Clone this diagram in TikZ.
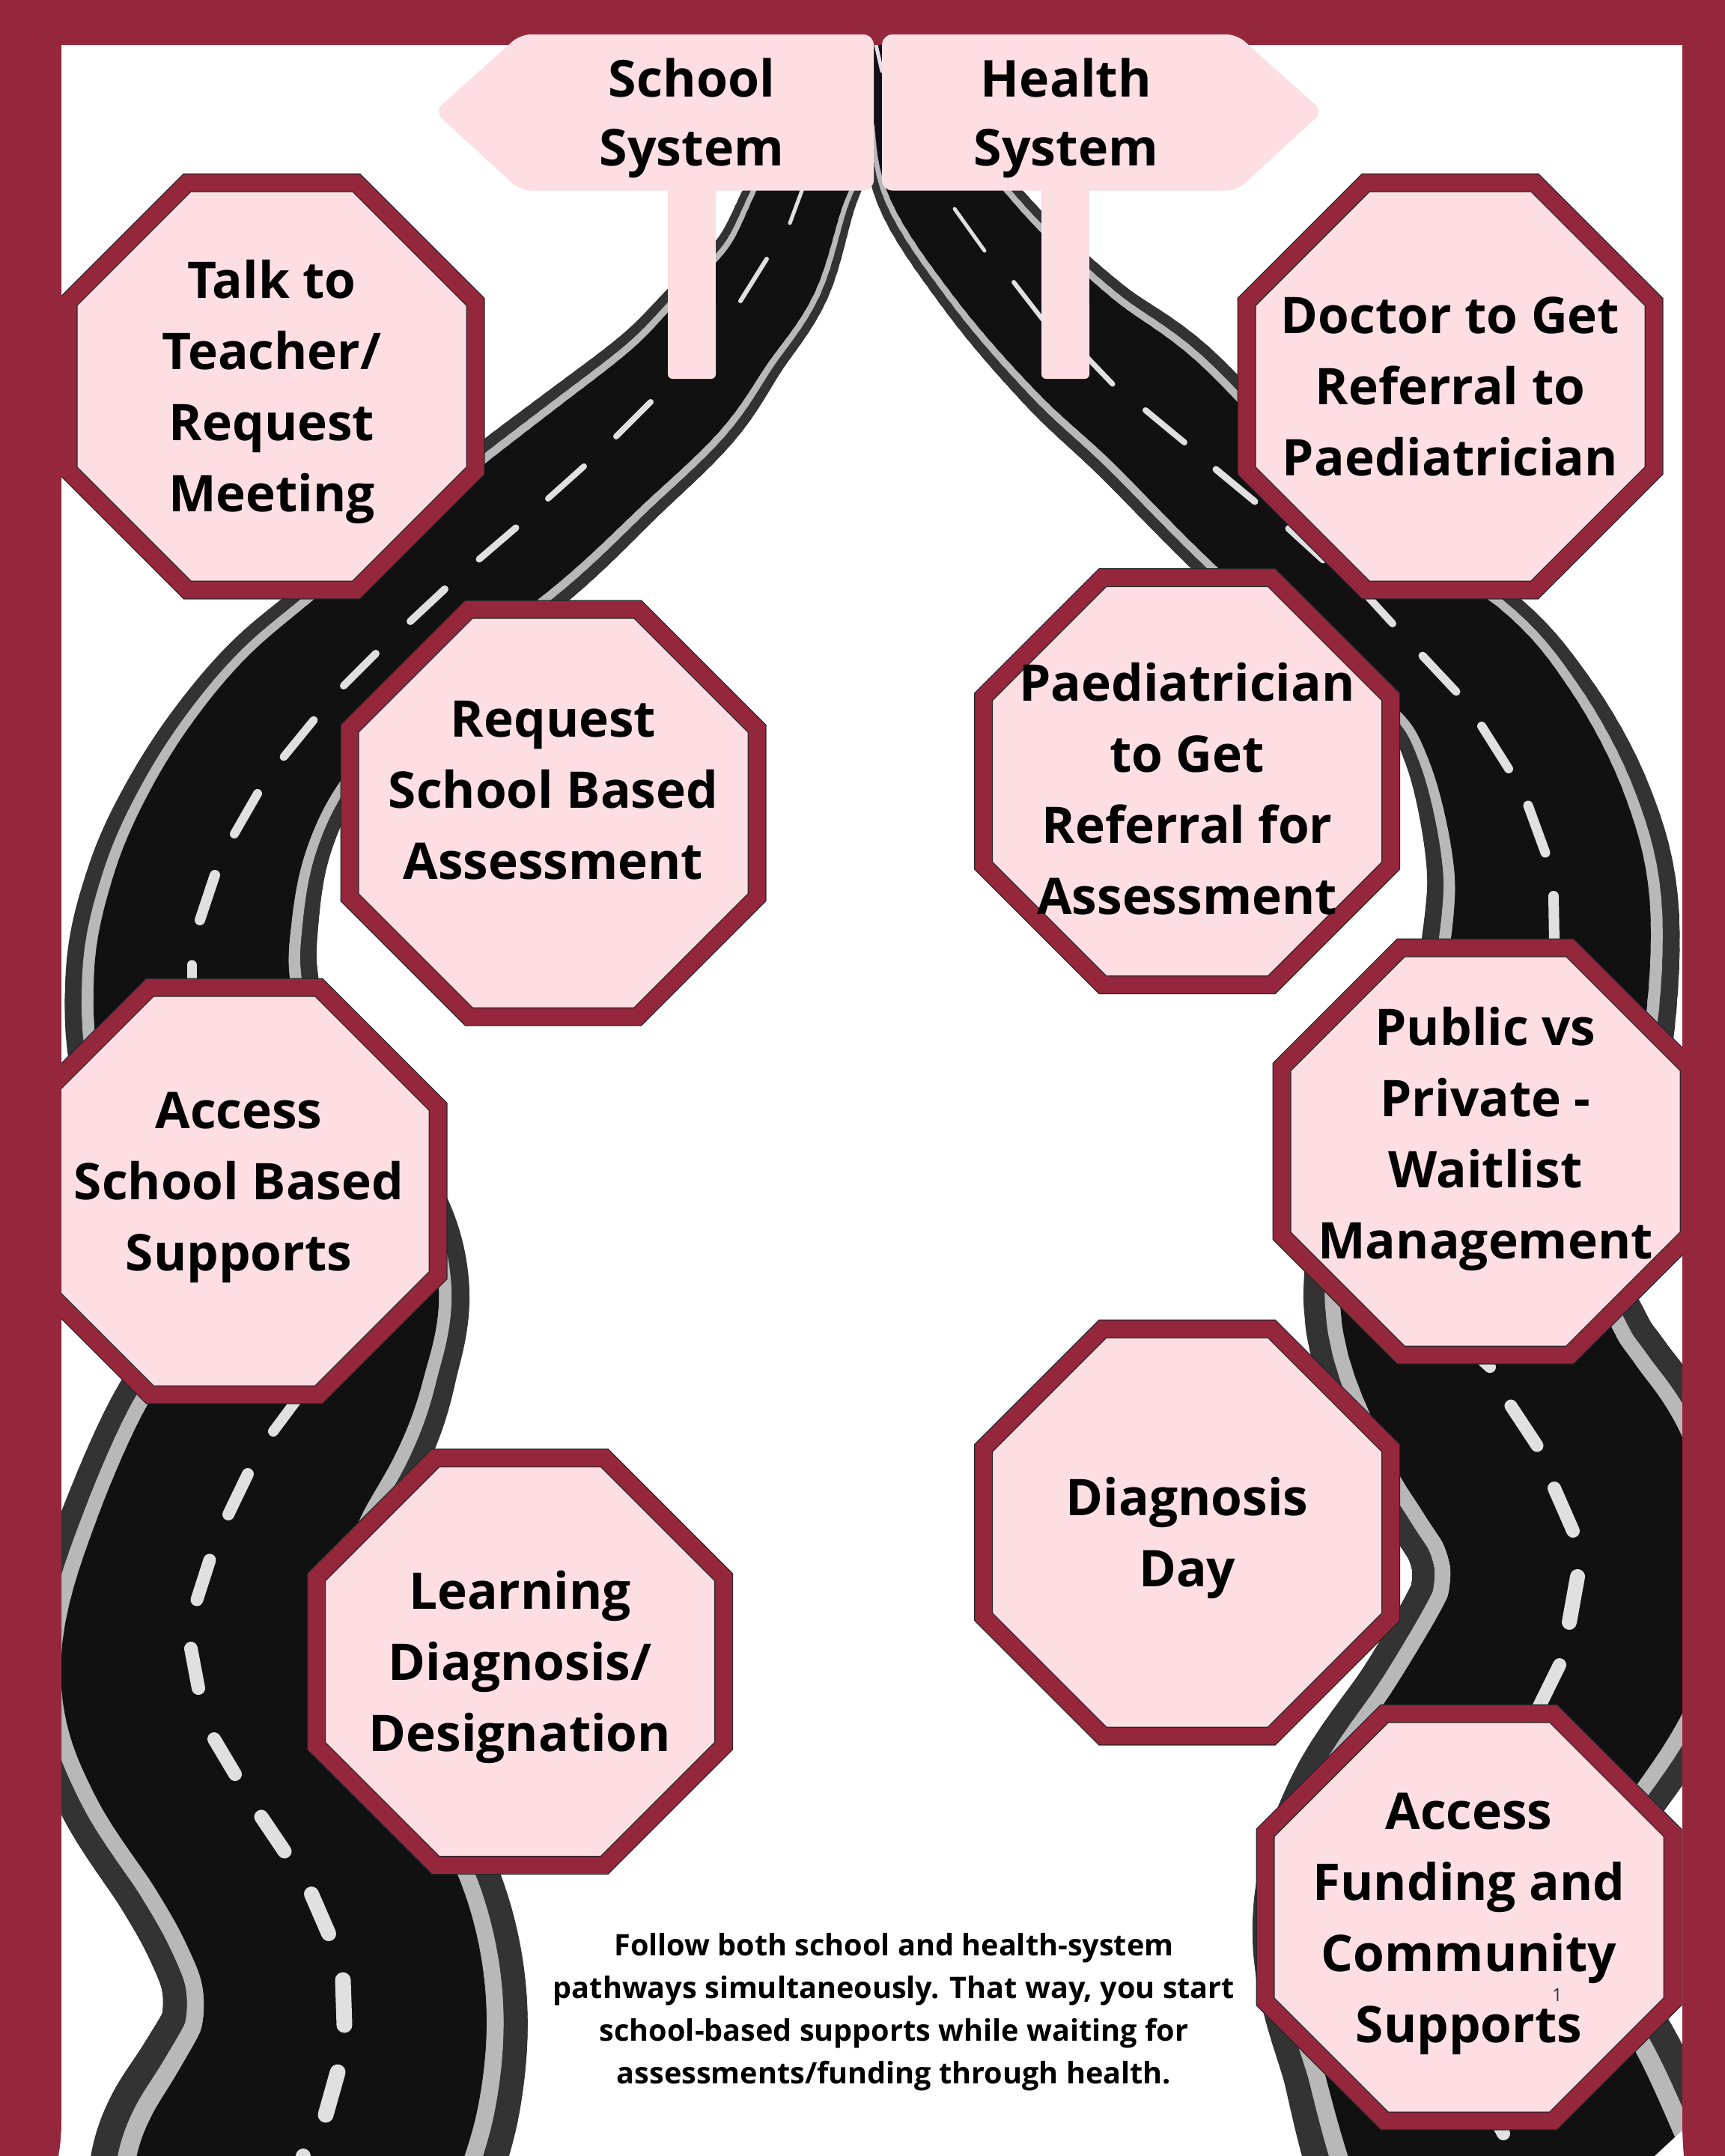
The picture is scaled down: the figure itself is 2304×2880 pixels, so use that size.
\documentclass[tikz,border=0pt]{standalone}
\usepackage{fontspec}
\setmainfont{Open Sans}
\definecolor{maroon}{HTML}{95273D}
\definecolor{pinkfill}{HTML}{FDDEE3}
\definecolor{roadblack}{HTML}{111111}
\definecolor{roaddark}{HTML}{333333}
\definecolor{roadlight}{HTML}{B8B8B8}
\definecolor{dashcol}{HTML}{E0E0E0}
\tikzset{
  octborder/.style={draw=black!85, line width=25pt, fill=pinkfill, postaction={draw=maroon, line width=22.5pt}},
  octlabel/.style={minimum width=544pt, minimum height=544pt, inner sep=0pt, outer sep=0pt},
  signtext/.style={align=center, font=\bfseries\fontsize{68}{92}\selectfont, text=black},
  foot/.style={align=center, font=\bfseries\fontsize{39.6}{57}\selectfont, text=black},
  signshape/.style={fill=pinkfill, rounded corners=14pt},
  dashline/.style={draw=dashcol, line cap=round},
}
\newcommand\octx[2]{\makebox[0pt]{\smash{\raisebox{\dimexpr#1-12pt\relax}{\bfseries\fontsize{67.5}{95}\selectfont\begin{tabular}{@{}c@{}}#2\end{tabular}}}}}
% name, x, y, text
\newcommand\octnode[4]{%
  \draw[octborder, shift={(#2,#3)}] (-112.7,-272) -- (112.7,-272) -- (272,-112.7) -- (272,112.7) -- (112.7,272) -- (-112.7,272) -- (-272,112.7) -- (-272,-112.7) -- cycle;
  \node[octlabel] (#1) at (#2,#3) {#4};
}
\newcommand\crv[6]{\pgfmathsetmacro#1{0.5*(2*#3+(#4-#2)*#6+(2*#2-5*#3+4*#4-#5)*#6*#6+(3*#3-#2-3*#4+#5)*#6*#6*#6)}}
% #1 list macro, #2 xs, #3 ys, #4 ws, #5 count
\newcommand\buildroad[5]{%
  \gdef#1{}%
  \pgfmathtruncatemacro\nnseg{#5-2}%
  \foreach \i in {0,...,\nnseg}{%
    \pgfmathtruncatemacro\ia{max(\i-1,0)}%
    \pgfmathtruncatemacro\ic{\i+1}%
    \pgfmathtruncatemacro\id{min(\i+2,#5-1)}%
    \pgfmathsetmacro\xa{#2[\ia]}\pgfmathsetmacro\xb{#2[\i]}\pgfmathsetmacro\xc{#2[\ic]}\pgfmathsetmacro\xd{#2[\id]}%
    \pgfmathsetmacro\ya{#3[\ia]}\pgfmathsetmacro\yb{#3[\i]}\pgfmathsetmacro\yc{#3[\ic]}\pgfmathsetmacro\yd{#3[\id]}%
    \pgfmathsetmacro\wa{#4[\ia]}\pgfmathsetmacro\wb{#4[\i]}\pgfmathsetmacro\wc{#4[\ic]}\pgfmathsetmacro\wd{#4[\id]}%
    \foreach \k in {1,...,8}{%
      \pgfmathsetmacro\tv{\k/8}%
      \crv\rx\xa\xb\xc\xd\tv \crv\ry\ya\yb\yc\yd\tv \crv\rw\wa\wb\wc\wd\tv
      \xdef#1{#1\ifx#1\empty\else,\fi\rx/\ry/\rw}%
    }%
  }%
}
\newcommand\roadlayer[5]{% list, x0, y0, factor, colour
  \foreach \x/\y/\w [remember=\x as \px (initially #2), remember=\y as \py (initially #3)] in #1 {%
    \pgfmathsetmacro\lw{\w*#4}%
    \draw[draw=#5, line cap=round, line width=\lw pt] (\px,\py) -- (\x,\y);
  }%
}
\def\LX{{1155,1125,1074,1029,965,900,795,688,575,466,395,338,295,268,256,275,350,425,446,425,390,332,280,258,285,360,412,449,461,449,412,385}}
\def\LY{{70,170,254,364,445,524,615,706,795,886,955,1033,1120,1210,1310,1430,1560,1650,1725,1800,1870,1966,2100,2228,2315,2424,2513,2601,2690,2779,2867,2925}}
\def\LW{{70,100,140,165,185,205,222,239,238,245,258,270,290,315,335,350,350,350,360,375,400,415,425,454,460,468,472,478,486,495,515,535}}
\def\RX{{1190,1210,1255,1341,1440,1540,1665,1800,1940,2009,2058,2073,2050,1985,1957,2005,2045,2082,2105,2114,2105,2080,2003,1930,1912,1957,2008,2050}}
\def\RY{{70,170,254,364,465,548,674,790,885,981,1110,1230,1400,1580,1731,1860,1925,1980,2040,2098,2170,2230,2352,2480,2590,2730,2849,2950}}
\def\RW{{50,100,162,185,205,225,225,235,245,270,310,337,360,400,430,440,445,450,452,455,452,450,440,460,476,490,530,540}}
\begin{document}
\begin{tikzpicture}[x=1pt,y=-1pt]
\useasboundingbox (0,0) rectangle (2304,2880);
\fill[white] (0,0) rectangle (2304,2880);
% roads
\buildroad\lroad\LX\LY\LW{32}
\buildroad\rroad\RX\RY\RW{28}
\roadlayer\lroad{1155}{70}{1}{roaddark}
\roadlayer\rroad{1190}{70}{1}{roaddark}
\roadlayer\lroad{1155}{70}{0.868}{roadlight}
\roadlayer\rroad{1190}{70}{0.868}{roadlight}
\roadlayer\lroad{1155}{70}{0.775}{roadblack}
\roadlayer\rroad{1190}{70}{0.775}{roadblack}
% dashes
\foreach \xa/\ya/\xb/\yb/\dw in {
 1082/225/1055/298/5,1024/346/989/402/6,869/537/823/583/8,780/623/732/666/8,689/705/640/747/9,
 594/787/548/830/10,502/873/459/916/10,419/962/379/1011/11,344/1060/313/1114/12,287/1169/267/1229/14,
 256/1289/256/1330/13,400/1865/365/1912/14,331/1969/305/2023/16,280/2084/263/2137/17,255/2202/265/2255/18,
 286/2323/314/2370/18,349/2427/380/2473/19,416/2530/439/2583/20,458/2645/460/2705/21,451/2768/435/2825/21,
 405/2880/400/2900/20,
 1170/60/1178/95/5,1275/279/1315/335/5,1354/377/1395/430/6,1440/465/1486/513/7,1530/548/1582/591/8,
 1624/627/1676/670/9,1721/706/1767/748/9,1827/797/1860/833/10,1900/876/1945/924/11,1979/970/2015/1027/12,
 2041/1076/2064/1139/13,2075/1197/2076/1260/14,1975/1812/1990/1826/16,2018/1878/2053/1931/17,
 2076/1988/2101/2045/18,2107/2106/2096/2167/20,2083/2224/2053/2285/18,2000/2835/2008/2850/18}{
  \draw[dashline, line width=\dw pt] (\xa,\ya) -- (\xb,\yb);
}
\fill[white] (2210,2880) -- (2250,2843) -- (2250,2880) -- cycle;
% octagons
\octnode{talk}{363}{516}{\octx{0pt}{Talk to\\Teacher/\\Request\\Meeting}}
\octnode{request}{739}{1086}{\octx{31pt}{Request\\School Based\\Assessment}}
\octnode{access}{313}{1591}{\kern12pt\octx{13pt}{Access\\School Based\\Supports}}
\octnode{learning}{694.5}{2219.5}{\octx{0pt}{Learning\\Diagnosis/\\Designation}}
\octnode{doctor}{1937}{516}{\octx{0pt}{Doctor to Get\\Referral to\\Paediatrician}}
\octnode{paed}{1585.6}{1043.6}{\octx{-11pt}{Paediatrician\\to Get\\Referral for\\Assessment}}
\octnode{public}{1984}{1538}{\octx{24pt}{Public vs\\Private -\\Waitlist\\Management}}
\octnode{diag}{1585.6}{2047}{\octx{0pt}{Diagnosis\\Day}}
\octnode{funding}{1962}{2561}{\octx{0pt}{Access\\Funding and\\Community\\Supports}}
% frame
\fill[maroon] (0,0) -- (2304,0) -- (2304,2880) -- (2249,2880) .. controls (2247.5,2860) and (2247,2850) .. (2247,2833)
  -- (2247,60) -- (82,60) -- (82,2833) .. controls (82,2850) and (81,2862) .. (78,2880) -- (0,2880) -- cycle;
% signs
\fill[pinkfill] (892,250) rectangle (956,500);
\fill[pinkfill, rounded corners=6pt] (892,400) rectangle (956,506);
\fill[pinkfill] (1391,250) rectangle (1455,500);
\fill[pinkfill, rounded corners=6pt] (1391,400) rectangle (1455,506);
\fill[signshape] (695,46) -- (1167,46) -- (1167,254.5) -- (695,254.5) -- (580,149) -- cycle;
\fill[signshape] (1178,46) -- (1652,46) -- (1767,149) -- (1652,254.5) -- (1178,254.5) -- cycle;
\node[signtext] (school) at (924,158) {School\\System};
\node[signtext] (health) at (1424,158) {Health\\System};
% footer
\node[foot] (note) at (1194,2688) {Follow both school and health-system\\pathways simultaneously. That way, you start\\school-based supports while waiting for\\assessments/funding through health.};
\node[font=\fontsize{24}{24}\selectfont, text=black!80, inner sep=0pt] (fnmark) at (2080,2665) {1};
\end{tikzpicture}
\end{document}
